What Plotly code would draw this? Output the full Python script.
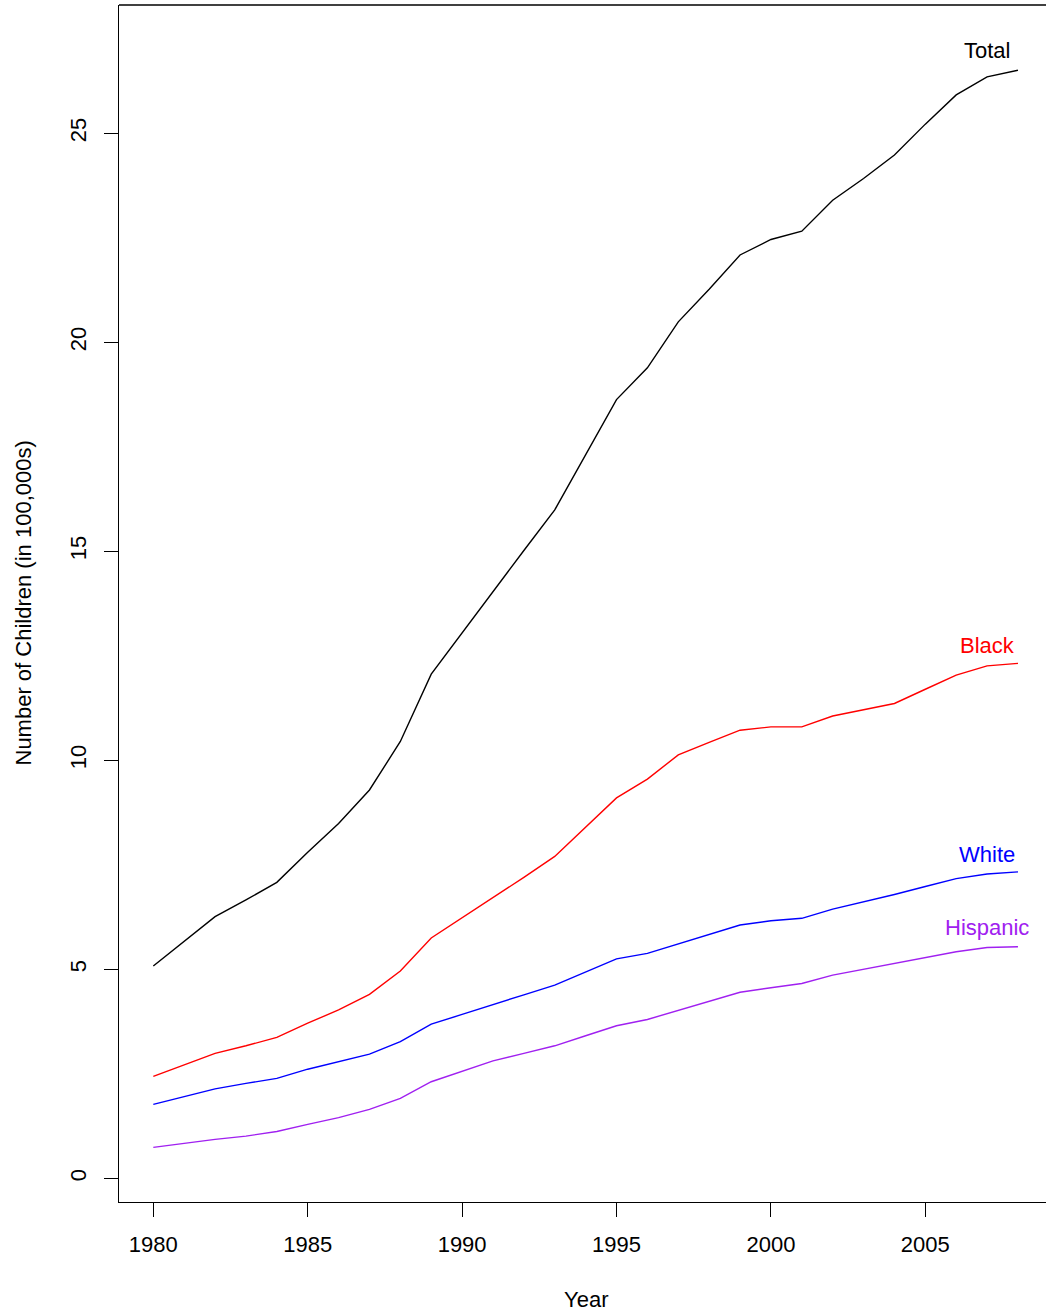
import plotly.graph_objects as go

# Number of children (in 100,000s), by year and group
years = list(range(1980, 2009))

total = [5.08, 5.67, 6.26, 6.66, 7.08, 7.80, 8.49, 9.29, 10.45, 12.06,
         13.05, 14.05, 15.02, 15.99, 17.30, 18.63, 19.39, 20.49, 21.27, 22.09,
         22.46, 22.66, 23.40, 23.92, 24.48, 25.22, 25.92, 26.35, 26.51]

black = [2.44, 2.72, 2.99, 3.17, 3.37, 3.71, 4.03, 4.40, 4.96, 5.75,
         6.23, 6.71, 7.20, 7.70, 8.39, 9.10, 9.55, 10.13, 10.43, 10.72,
         10.80, 10.80, 11.06, 11.21, 11.36, 11.70, 12.04, 12.26, 12.32]

white = [1.77, 1.96, 2.14, 2.27, 2.39, 2.61, 2.79, 2.97, 3.27, 3.69,
         3.92, 4.16, 4.39, 4.62, 4.93, 5.25, 5.38, 5.61, 5.83, 6.06,
         6.16, 6.22, 6.44, 6.61, 6.79, 6.98, 7.17, 7.28, 7.33]

hispanic = [0.74, 0.84, 0.93, 1.01, 1.12, 1.29, 1.45, 1.65, 1.91, 2.31,
            2.56, 2.81, 2.99, 3.17, 3.41, 3.65, 3.80, 4.02, 4.23, 4.45,
            4.56, 4.66, 4.86, 5.00, 5.14, 5.28, 5.42, 5.52, 5.54]

series_names = ["Total", "Black", "White", "Hispanic"]
series_colors = ["#000000", "#FF0000", "#0000FF", "#A020F0"]
series_values = [total, black, white, hispanic]

# Where each group's name is written, next to the end of its line
label_x = [2007, 2007, 2007, 2007]
label_y = [26.99, 12.74, 7.74, 6.00]

x_ticks = [1980, 1985, 1990, 1995, 2000, 2005]
y_ticks = [0, 5, 10, 15, 20, 25]

FONT = "Liberation Sans, Arial, Helvetica, sans-serif"
W, H = 1046, 1316
ML, MR, MT, MB = 119, 0, 5, 114
plot_w = W - ML - MR
plot_h = H - MT - MB


def px_to_paper_x(px):
    return (px - ML) / plot_w


def px_to_paper_y(py):
    return (H - MB - py) / plot_h


fig = go.Figure()
for name, color, vals in zip(series_names, series_colors, series_values):
    fig.add_trace(go.Scatter(
        x=years, y=vals, mode="lines", name=name,
        line=dict(color=color, width=1.4),
        showlegend=False, hoverinfo="skip",
    ))

for name, color, lx, ly in zip(series_names, series_colors, label_x, label_y):
    fig.add_annotation(
        x=lx, y=ly, xref="x", yref="y", text=name, showarrow=False,
        xanchor="center", yanchor="middle",
        font=dict(family=FONT, size=22, color=color),
    )

# Axis titles
fig.add_annotation(
    x=px_to_paper_x(585.6), y=px_to_paper_y(1299.5), xref="paper", yref="paper",
    text="Year", showarrow=False, xanchor="center", yanchor="middle",
    font=dict(family=FONT, size=22, color="black"),
)
fig.add_annotation(
    x=px_to_paper_x(23), y=0.5, xref="paper", yref="paper",
    text="Number of Children (in 100,000s)", showarrow=False, textangle=-90,
    xanchor="center", yanchor="middle",
    font=dict(family=FONT, size=22, color="black"),
)

# Top edge of the frame
fig.add_shape(type="line", xref="paper", yref="paper", x0=0, x1=1, y0=1, y1=1,
              line=dict(color="black", width=1.4))

fig.update_xaxes(
    range=[1978.889, 2008.908], tickvals=x_ticks, ticktext=[str(v) for v in x_ticks],
    ticks="outside", ticklen=14, tickwidth=1.4, tickcolor="black",
    ticklabelstandoff=8,
    showline=True, linecolor="black", linewidth=1.4,
    showgrid=False, zeroline=False,
    tickfont=dict(family=FONT, size=22, color="black"),
)
fig.update_yaxes(
    range=[-0.567, 28.07], tickvals=y_ticks, ticktext=[str(v) for v in y_ticks],
    ticks="outside", ticklen=14, tickwidth=1.4, tickcolor="black", tickangle=-90,
    ticklabelstandoff=9,
    showline=True, linecolor="black", linewidth=1.4,
    showgrid=False, zeroline=False,
    tickfont=dict(family=FONT, size=22, color="black"),
)

fig.update_layout(
    width=W, height=H, autosize=False,
    margin=dict(l=ML, r=MR, t=MT, b=MB, pad=0),
    paper_bgcolor="white", plot_bgcolor="white",
    font=dict(family=FONT, size=22, color="black"),
)

fig.write_html("out.html", config={"displayModeBar": False})
